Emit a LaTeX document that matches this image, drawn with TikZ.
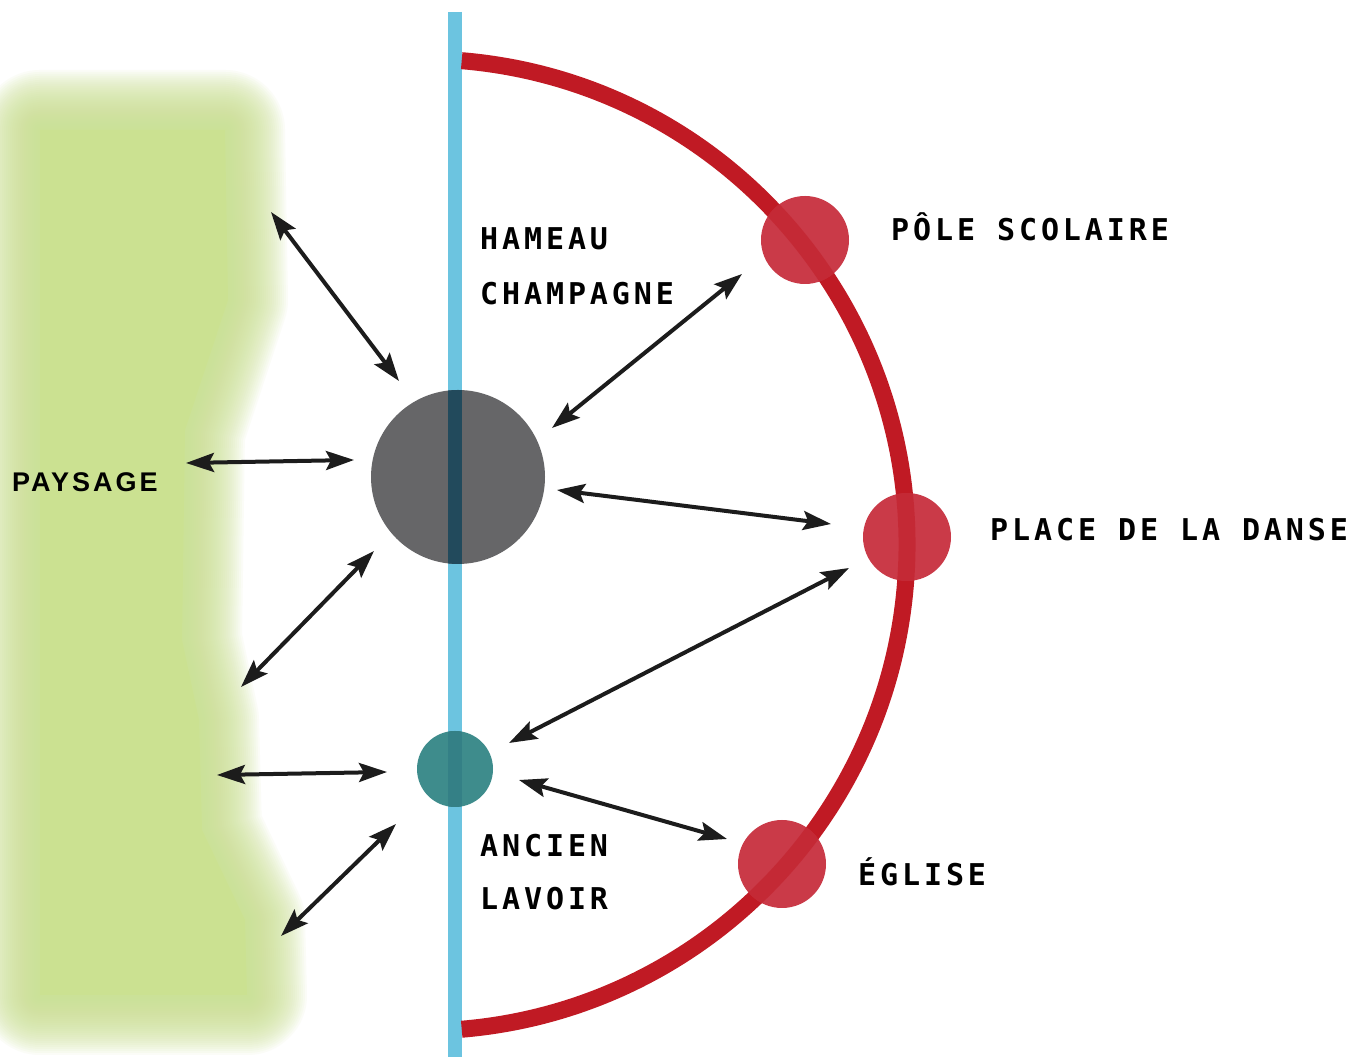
\documentclass[tikz,border=0pt]{standalone}
\usepackage{fontspec}
\usetikzlibrary{arrows.meta}
\newfontfamily\lblfont[LetterSpace=13]{DejaVu Sans Mono}
\newfontfamily\payfont[LetterSpace=11]{Liberation Sans}
\definecolor{greenzone}{RGB}{203,225,145}
\definecolor{river}{RGB}{108,196,224}
\definecolor{ringred}{RGB}{192,26,36}
\definecolor{spotred}{RGB}{202,58,72}
\definecolor{hubgray}{RGB}{102,102,104}
\definecolor{hubdark}{RGB}{34,74,92}
\definecolor{lavoirteal}{RGB}{62,140,140}
\definecolor{lavoirdark}{RGB}{52,128,134}
\definecolor{arrowblack}{RGB}{28,28,28}
\begin{document}
\begin{tikzpicture}[x=1pt,y=1pt,
  link/.style={{Stealth[length=28pt,width=19pt,inset=5pt]}-{Stealth[length=28pt,width=19pt,inset=5pt]}, line width=4pt, draw=arrowblack},
  lbl/.style={anchor=base west, inner sep=0pt, font=\lblfont\bfseries\fontsize{30}{36}\selectfont, text=black},
  paylbl/.style={anchor=base west, inner sep=0pt, font=\payfont\bfseries\fontsize{27}{30}\selectfont, text=black},
  spot/.style={circle, fill=spotred, minimum size=88pt, inner sep=0pt}
]
\useasboundingbox (0,0) rectangle (1363,1057);
\fill[white] (0,0) rectangle (1363,1057);

% green landscape band (soft edges)
\foreach \w in {4,8,...,120} {
  \draw[greenzone, draw opacity=0.07, line width=\w pt, line join=round]
    (40,927) -- (225,927) -- (228,757) -- (185,627) -- (182,417) -- (199,337)
    -- (202,227) -- (245,137) -- (247,62) -- (40,62) -- cycle;
}
\fill[greenzone] (40,927) -- (225,927) -- (228,757) -- (185,627) -- (182,417)
  -- (199,337) -- (202,227) -- (245,137) -- (247,62) -- (40,62) -- cycle;

% river line
\draw[river, line width=14pt] (455,1045) -- (455,0);

% red ring
\draw[ringred, line width=17pt] (461.7,996.3) arc[start angle=85.2, end angle=-85.2, radius=486];

% hub circle
\node[circle, fill=hubgray, minimum size=174pt, inner sep=0pt] (hub) at (458,580) {};
\begin{scope}
  \clip (458,580) circle (87);
  \draw[hubdark, line width=14pt] (455,700) -- (455,450);
\end{scope}

% lavoir circle
\node[circle, fill=lavoirteal, minimum size=76pt, inner sep=0pt] (lavoir) at (455,288) {};
\begin{scope}
  \clip (455,288) circle (38);
  \draw[lavoirdark, line width=14pt] (455,340) -- (455,240);
\end{scope}

% red spots
\node[spot] (pole) at (805,817) {};
\node[spot] (danse) at (907,520) {};
\node[spot] (eglise) at (782,193) {};
\begin{scope}
  \clip (805,817) circle (44) (907,520) circle (44) (782,193) circle (44);
  \draw[ringred, line width=17pt, draw opacity=0.5] (461.7,996.3) arc[start angle=85.2, end angle=-85.2, radius=486];
\end{scope}

% labels
\node[lbl] (hameau1) at (480,807) {HAMEAU};
\node[lbl] (hameau2) at (480,752) {CHAMPAGNE};
\node[lbl] (polelbl) at (891,816) {PÔLE SCOLAIRE};
\node[lbl] (danselbl) at (990,516) {PLACE DE LA DANSE};
\node[lbl] (egliselbl) at (858,171) {ÉGLISE};
\node[lbl] (lavoir1) at (480,200) {ANCIEN};
\node[lbl] (lavoir2) at (480,147) {LAVOIR};
\node[paylbl] (paysage) at (12,565) {PAYSAGE};

% arrow end points
\coordinate (a1s) at (271,845); \coordinate (a1e) at (399,676);
\coordinate (a2s) at (186,594); \coordinate (a2e) at (354,597);
\coordinate (a3s) at (241,370); \coordinate (a3e) at (374,506);
\coordinate (a4s) at (217,282); \coordinate (a4e) at (387,285);
\coordinate (a5s) at (281,121); \coordinate (a5e) at (396,233);
\coordinate (a6s) at (552,629); \coordinate (a6e) at (742,783);
\coordinate (a7s) at (557,567); \coordinate (a7e) at (831,533);
\coordinate (a8s) at (509,314); \coordinate (a8e) at (849,489);
\coordinate (a9s) at (519,277); \coordinate (a9e) at (727,218);

\foreach \k in {1,...,9} { \draw[link] (a\k s) -- (a\k e); }
\end{tikzpicture}
\end{document}
